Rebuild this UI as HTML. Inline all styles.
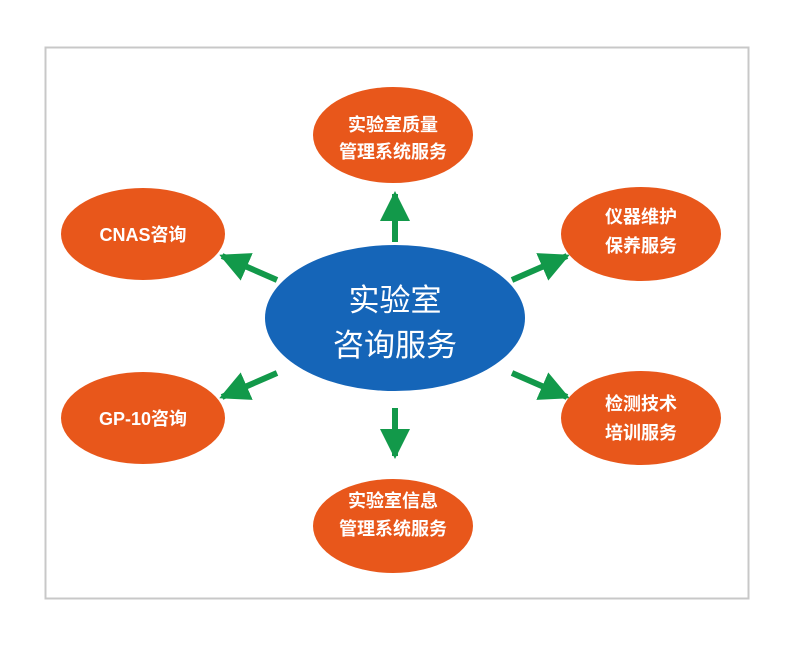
<!DOCTYPE html>
<html><head><meta charset="utf-8"><style>
body{margin:0;background:#fff;}
svg text{font-family:"Liberation Sans","Noto Sans CJK SC",sans-serif;fill:#fff;text-anchor:middle;}
</style></head><body>
<svg width="800" height="650" viewBox="0 0 800 650" xmlns="http://www.w3.org/2000/svg">
<defs>
<marker id="a" viewBox="0 0 10 10" refX="9" refY="5" markerWidth="5" markerHeight="5" markerUnits="strokeWidth" orient="auto">
<path d="M0,0L10,5L0,10z" fill="#12994a"/></marker>
</defs>
<rect x="45.5" y="47.5" width="703" height="551" fill="#fff" stroke="#c8c8c8" stroke-width="2"/>
<g stroke="#12994a" stroke-width="6" marker-end="url(#a)">
<line x1="395" y1="242" x2="395" y2="194"/>
<line x1="395" y1="408" x2="395" y2="456"/>
<line x1="277" y1="280" x2="222" y2="256"/>
<line x1="512" y1="280" x2="567" y2="256"/>
<line x1="277" y1="373" x2="222" y2="397"/>
<line x1="512" y1="373" x2="567" y2="397"/>
</g>
<g fill="#e8571b">
<ellipse cx="393" cy="135" rx="80" ry="48"/>
<ellipse cx="143" cy="234" rx="82" ry="46"/>
<ellipse cx="641" cy="234" rx="80" ry="47"/>
<ellipse cx="143" cy="418" rx="82" ry="46"/>
<ellipse cx="641" cy="418" rx="80" ry="47"/>
<ellipse cx="393" cy="526" rx="80" ry="47"/>
</g>
<ellipse cx="395" cy="318" rx="130" ry="73" fill="#1565b8"/>
<g font-size="31"><text x="395" y="311">实验室</text><text x="395" y="356">咨询服务</text></g>
<g font-size="18" font-weight="bold">
<text x="393" y="131">实验室质量</text><text x="393" y="158">管理系统服务</text>
<text x="143" y="241">CNAS咨询</text>
<text x="641" y="223">仪器维护</text><text x="641" y="252">保养服务</text>
<text x="143" y="425">GP-10咨询</text>
<text x="641" y="410">检测技术</text><text x="641" y="439">培训服务</text>
<text x="393" y="507">实验室信息</text><text x="393" y="535">管理系统服务</text>
</g>
</svg>
</body></html>
